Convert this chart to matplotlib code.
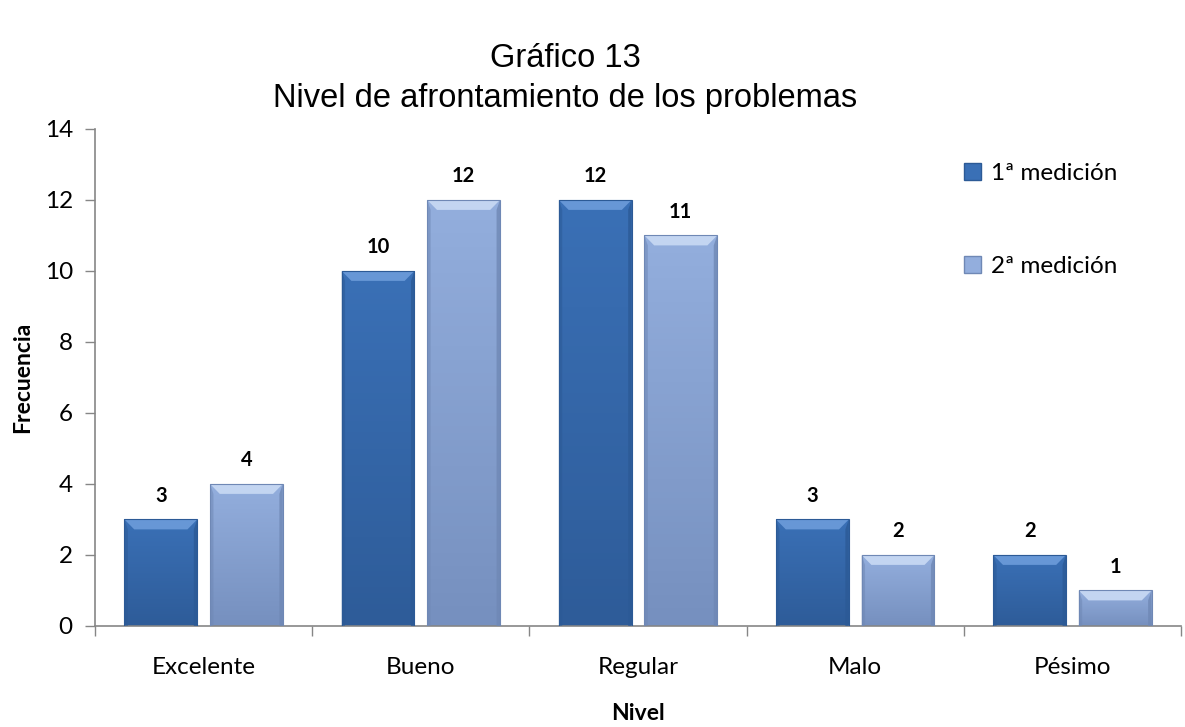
import numpy as np
import matplotlib.pyplot as plt
from matplotlib.patches import Polygon, Rectangle
from matplotlib.colors import LinearSegmentedColormap

niveles = ["Excelente", "Bueno", "Regular", "Malo", "Pésimo"]
medicion1 = [3, 10, 12, 3, 2]
medicion2 = [4, 12, 11, 2, 1]
series = ["1ª medición", "2ª medición"]

font = ["Lato", "DejaVu Sans"]

# colores de cada serie: cara, bisel superior, borde oscuro, base
estilos = [
    dict(face="#3A70B6", top="#6797D6", side="#2C5A96", low="#2E5C99"),
    dict(face="#93AEDD", top="#C3D5F1", side="#6F88B5", low="#7690BF"),
]

fig = plt.figure(figsize=(11.85, 7.27), dpi=100)
ax = fig.add_axes([0.0802, 0.139, 0.9164, 0.6836])

x = np.arange(len(niveles))
ancho = 0.335
desp = 0.197
bx = 0.045   # bisel horizontal
by = 0.28    # bisel vertical


def barra(ax, xc, h, st):
    x0, x1 = xc - ancho / 2, xc + ancho / 2
    cmap = LinearSegmentedColormap.from_list("g", [st["low"], st["face"]])
    grad = np.linspace(0, 1, 64).reshape(-1, 1)
    im = ax.imshow(grad, extent=[x0, x1, 0, h], origin="lower",
                   cmap=cmap, aspect="auto", zorder=2)
    rect = Rectangle((x0, 0), ancho, h, facecolor="none", edgecolor="none")
    ax.add_patch(rect)
    im.set_clip_path(rect)
    b = min(by, h * 0.3)
    # bisel superior
    ax.add_patch(Polygon([(x0, h), (x1, h), (x1 - bx, h - b), (x0 + bx, h - b)],
                         closed=True, facecolor=st["top"], edgecolor="none", zorder=3))
    # bordes laterales
    ax.add_patch(Polygon([(x0, h), (x0 + bx * 0.35, h - b), (x0 + bx * 0.35, 0), (x0, 0)],
                         closed=True, facecolor=st["side"], edgecolor="none",
                         alpha=0.55, zorder=3))
    ax.add_patch(Polygon([(x1, h), (x1 - bx * 0.35, h - b), (x1 - bx * 0.35, 0), (x1, 0)],
                         closed=True, facecolor=st["side"], edgecolor="none",
                         alpha=0.8, zorder=3))
    ax.add_patch(Rectangle((x0, 0), ancho, h, facecolor="none",
                           edgecolor=st["side"], linewidth=0.8, zorder=4))
    ax.text(xc, h + 0.38, str(h), ha="center", va="bottom", fontsize=14.5,
            fontweight="bold", family=font, zorder=5)


for i in range(len(niveles)):
    barra(ax, x[i] - desp, medicion1[i], estilos[0])
    barra(ax, x[i] + desp, medicion2[i], estilos[1])

ax.set_xlim(-0.5, len(niveles) - 0.5)
ax.set_ylim(0, 14)
ax.set_yticks(range(0, 15, 2))
ax.set_xticks(x)
ax.set_xticklabels(niveles, family=font, fontsize=17.5)
ax.set_xticks(np.arange(-0.5, len(niveles)), minor=True)
ax.tick_params(axis="x", which="major", length=0, pad=22)
ax.tick_params(axis="x", which="minor", length=7, color="#868686", width=1)
ax.tick_params(axis="y", length=7, color="#868686", width=1, labelsize=17.5, pad=9)
for lab in ax.get_yticklabels():
    lab.set_family(font)
ax.yaxis.set_tick_params(direction="out")
ax.xaxis.set_tick_params(which="minor", direction="out")

for s in ["top", "right"]:
    ax.spines[s].set_visible(False)
for s in ["left", "bottom"]:
    ax.spines[s].set_color("#868686")
    ax.spines[s].set_linewidth(1.2)

ax.set_ylabel("Frecuencia", family=font, fontsize=16.5, fontweight="bold", labelpad=8)
ax.set_xlabel("Nivel", family=font, fontsize=16.5, fontweight="bold", labelpad=18)

# leyenda
handles = [Rectangle((0, 0), 1, 1, facecolor=st["face"], edgecolor=st["side"]) for st in estilos]
leg = ax.legend(handles, series, loc="upper left", bbox_to_anchor=(0.78, 0.975),
                frameon=False, prop={"family": font, "size": 17.5},
                handlelength=0.7, handleheight=0.7, handletextpad=0.4,
                labelspacing=2.95)

fig.text(0.477, 0.919, "Gráfico 13", ha="center", va="center",
         family="Liberation Sans", fontsize=23.5)
fig.text(0.477, 0.865, "Nivel de afrontamiento de los problemas", ha="center",
         va="center", family="Liberation Sans", fontsize=23.5)

fig.savefig("out.png", dpi=100)
